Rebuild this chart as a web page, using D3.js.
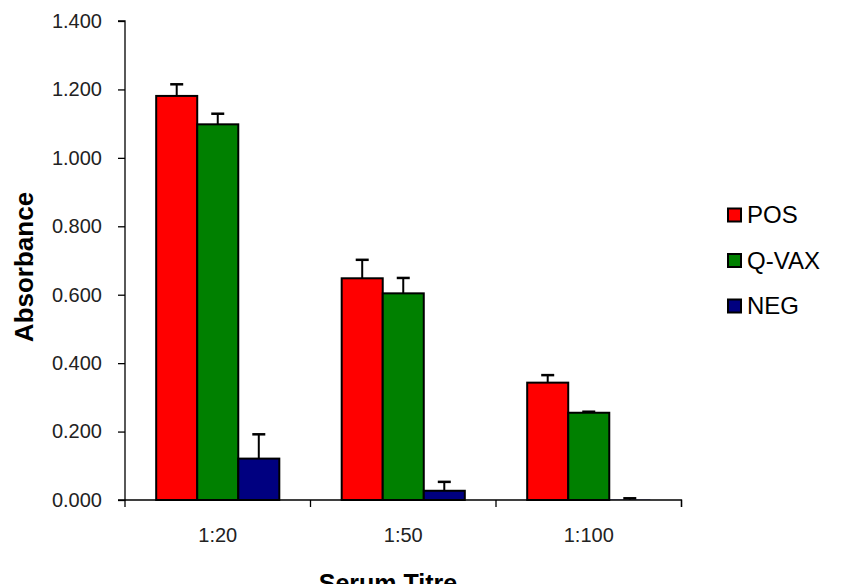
<!DOCTYPE html>
<html>
<head>
<meta charset="utf-8">
<script src="https://cdn.jsdelivr.net/npm/d3@7/dist/d3.min.js"></script>
<style>
html,body{margin:0;padding:0;background:#fff;}
svg{display:block;font-family:"Liberation Sans",Arial,sans-serif;}
</style>
</head>
<body>
<svg id="chart" width="841" height="584"></svg>
<script>
const categories = ["1:20", "1:50", "1:100"];
const seriesNames = ["POS", "Q-VAX", "NEG"];
const seriesColors = ["#FF0000", "#008000", "#000080"];
const posValues = [1.181, 0.648, 0.343];
const posErrors = [0.034, 0.054, 0.022];
const qvaxValues = [1.098, 0.604, 0.255];
const qvaxErrors = [0.031, 0.045, 0.003];
const negValues = [0.121, 0.027, 0.001];
const negErrors = [0.071, 0.026, 0.004];
const yTicks = [0, 0.2, 0.4, 0.6, 0.8, 1.0, 1.2, 1.4];

const series = [
  {name: seriesNames[0], color: seriesColors[0], values: posValues, errors: posErrors},
  {name: seriesNames[1], color: seriesColors[1], values: qvaxValues, errors: qvaxErrors},
  {name: seriesNames[2], color: seriesColors[2], values: negValues, errors: negErrors}
];

const svg = d3.select("#chart");
const mLeft = 125, mRight = 681.5, mTop = 21, mBottom = 500;

const x = d3.scaleBand().domain(categories).range([mLeft, mRight]).paddingInner(0).paddingOuter(0);
const y = d3.scaleLinear().domain([0, 1.4]).range([mBottom, mTop]);
const xs = d3.scaleBand().domain(seriesNames).range([0, x.bandwidth()]).paddingInner(0).paddingOuter(0.76);

// Bars
const groups = svg.append("g").selectAll("g").data(series).join("g");
groups.selectAll("rect").data(s => s.values.map((v, i) => ({s, v, i})))
  .join("rect")
  .attr("x", d => x(categories[d.i]) + xs(d.s.name))
  .attr("y", d => y(d.v))
  .attr("width", xs.bandwidth())
  .attr("height", d => y(0) - y(d.v))
  .attr("fill", d => d.s.color)
  .attr("stroke", "#000")
  .attr("stroke-width", d => (y(0) - y(d.v)) < 2 ? 0 : 2);

// Error bars
const eb = svg.append("g");
series.forEach(s => {
  s.values.forEach((v, i) => {
    const cx = x(categories[i]) + xs(s.name) + xs.bandwidth() / 2;
    const y0 = y(v), y1 = y(v + s.errors[i]);
    eb.append("line").attr("x1", cx).attr("x2", cx).attr("y1", y0).attr("y2", y1)
      .attr("stroke", "#000").attr("stroke-width", 2);
    eb.append("line").attr("x1", cx - 6.5).attr("x2", cx + 6.5).attr("y1", y1).attr("y2", y1)
      .attr("stroke", "#000").attr("stroke-width", 2.5);
  });
});

// Y axis
const yAxis = d3.axisLeft(y).tickValues(yTicks).tickFormat(d3.format(".3f")).tickSize(7).tickPadding(16);
const gy = svg.append("g").attr("transform", `translate(${mLeft},0)`).call(yAxis);
gy.select(".domain").attr("stroke", "#000").attr("stroke-width", 1.3).attr("d", `M-7,${mTop}H0V${mBottom}H-7`);
gy.selectAll(".tick line").attr("stroke", "#000").attr("stroke-width", 1.3);
gy.selectAll(".tick text").attr("font-size", 20).attr("fill", "#222")
  .attr("font-family", "'Liberation Sans', Arial, sans-serif");

// X axis
const xAxis = d3.axisBottom(x).tickSize(0).tickPadding(28);
const gx = svg.append("g").attr("transform", `translate(0,${mBottom})`).call(xAxis);
gx.select(".domain").attr("stroke", "#000").attr("stroke-width", 1.3).attr("d", `M${mLeft},0H${mRight}V7`);
gx.selectAll(".tick text").attr("font-size", 20).attr("fill", "#222")
  .attr("font-family", "'Liberation Sans', Arial, sans-serif");
const sepPositions = categories.map(c => x(c)).concat([mRight]);
gx.selectAll(".sep").data(sepPositions).join("line").attr("class", "sep")
  .attr("x1", d => d).attr("x2", d => d).attr("y1", 0).attr("y2", 7)
  .attr("stroke", "#000").attr("stroke-width", 1.3);

// Axis titles
svg.append("text").attr("transform", "translate(33,267) rotate(-90)")
  .attr("text-anchor", "middle").attr("font-size", 26).attr("font-weight", "bold")
  .text("Absorbance");
svg.append("text").attr("x", 388).attr("y", 592)
  .attr("text-anchor", "middle").attr("font-size", 25).attr("font-weight", "bold")
  .text("Serum Titre");

// Legend
const legend = svg.append("g").attr("transform", "translate(728,0)");
series.forEach((s, i) => {
  const yy = 215 + i * 45.5;
  legend.append("rect").attr("x", 0).attr("y", yy - 6.5).attr("width", 13).attr("height", 13)
    .attr("fill", s.color).attr("stroke", "#000").attr("stroke-width", 2);
  legend.append("text").attr("x", 19).attr("y", yy + 8).attr("font-size", 24).attr("fill", "#000")
    .text(s.name);
});
</script>
</body>
</html>
